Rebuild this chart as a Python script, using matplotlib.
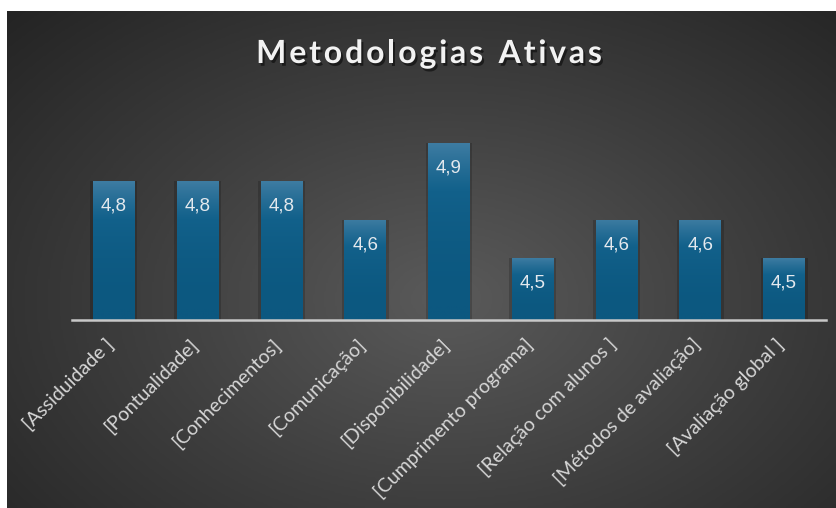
import numpy as np
import matplotlib
matplotlib.use("Agg")
import matplotlib.pyplot as plt
import matplotlib.patheffects as pe
import matplotlib.transforms as mtransforms
from matplotlib.colors import LinearSegmentedColormap

# dados
categorias = ["[Assiduidade ]", "[Pontualidade]", "[Conhecimentos]", "[Comunicação]",
              "[Disponibilidade]", "[Cumprimento programa]", "[Relação com alunos ]",
              "[Métodos de avaliação]", "[Avaliação global ]"]
valores = [4.77, 4.77, 4.77, 4.64, 4.90, 4.51, 4.64, 4.64, 4.51]
titulo = "Metodologias Ativas"

W, H = 836, 508
fig = plt.figure(figsize=(W / 100, H / 100), dpi=100)
fig.patch.set_facecolor("white")

# fundo com gradiente radial (começa depois da margem branca)
bg = fig.add_axes([7 / W, 0, 1 - 7 / W, 1 - 11 / H])
yy, xx = np.mgrid[0:1:300j, 0:1:500j]
r = np.sqrt(((xx - 0.53) / 0.75) ** 2 + ((yy - 0.42) / 0.85) ** 2)
r = np.clip(r, 0, 1)
cmap_bg = LinearSegmentedColormap.from_list("bg", ["#5a5a5a", "#3e3e3e", "#242424"])
bg.imshow(r, cmap=cmap_bg, aspect="auto", extent=[0, 1, 0, 1], origin="lower",
          interpolation="bilinear")
bg.set_axis_off()

# área do gráfico
ax = fig.add_axes([72 / W, 1 - 320 / H, 754 / W, (320 - 113.5) / H])
ax.set_facecolor("none")
ymin, ymax = 4.3, 5.0

cmap_bar = LinearSegmentedColormap.from_list("bar", ["#0c5880", "#12618b", "#3e7ca2"])
grad = np.linspace(0, 1, 256).reshape(-1, 1)
x = np.arange(len(categorias))
bw = 0.5
for xi, v in zip(x, valores):
    # sombra
    ax.bar(xi, v - ymin, bottom=ymin, width=bw + 0.06, color="black", alpha=0.18,
           zorder=1, linewidth=0)
    bar = ax.bar(xi, v - ymin, bottom=ymin, width=bw, color="none", zorder=2,
                 linewidth=0)[0]
    im = ax.imshow(grad ** 2.2, cmap=cmap_bar, aspect="auto", origin="lower",
                   extent=[xi - bw / 2, xi + bw / 2, ymin, v], zorder=2,
                   vmin=0, vmax=1)
    im.set_clip_path(bar)
    ax.annotate(f"{v:.1f}".replace(".", ","), (xi, v), xytext=(0, -25),
                textcoords="offset pixels",
                ha="center", va="center", color="#e4e9ee", fontsize=13.5,
                family="Liberation Sans", zorder=3)

ax.set_xlim(-0.5, len(categorias) - 0.5)
ax.set_ylim(ymin, ymax)
ax.axhline(ymin, color="#c8c8c8", lw=1.8, zorder=4, clip_on=False)
for s in ax.spines.values():
    s.set_visible(False)
ax.set_yticks([])
ax.set_xticks(x)
ax.set_xticklabels(categorias, rotation=45, ha="right", rotation_mode="anchor",
                   color="#d6d6d6", fontsize=14, family="Lato")
ax.tick_params(axis="x", length=0, pad=11)
desloc = mtransforms.ScaledTranslation(-9 / 100, 0, fig.dpi_scale_trans)
for lab in ax.get_xticklabels():
    lab.set_transform(lab.get_transform() + desloc)

# título com espaçamento entre letras
renderer = fig.canvas.get_renderer()
kw = dict(color="#f2f2f2", fontsize=23, fontweight="bold", family="Lato", va="baseline",
          path_effects=[pe.withSimplePatchShadow(offset=(1.5, -2), shadow_rgbFace="black",
                                                 alpha=0.5)])
spacing = 2.8
larguras = []
for ch in titulo:
    t = fig.text(0, 0, ch if ch != " " else "n", **kw)
    larguras.append(t.get_window_extent(renderer).width * (0.55 if ch == " " else 1))
    t.remove()
total = sum(larguras) + spacing * (len(titulo) - 1)
x0 = 429 - total / 2
for ch, wch in zip(titulo, larguras):
    if ch != " ":
        fig.text(x0 / W, 1 - 63 / H, ch, ha="left", **kw)
    x0 += wch + spacing

fig.savefig("out.png", dpi=100, facecolor=fig.get_facecolor())
